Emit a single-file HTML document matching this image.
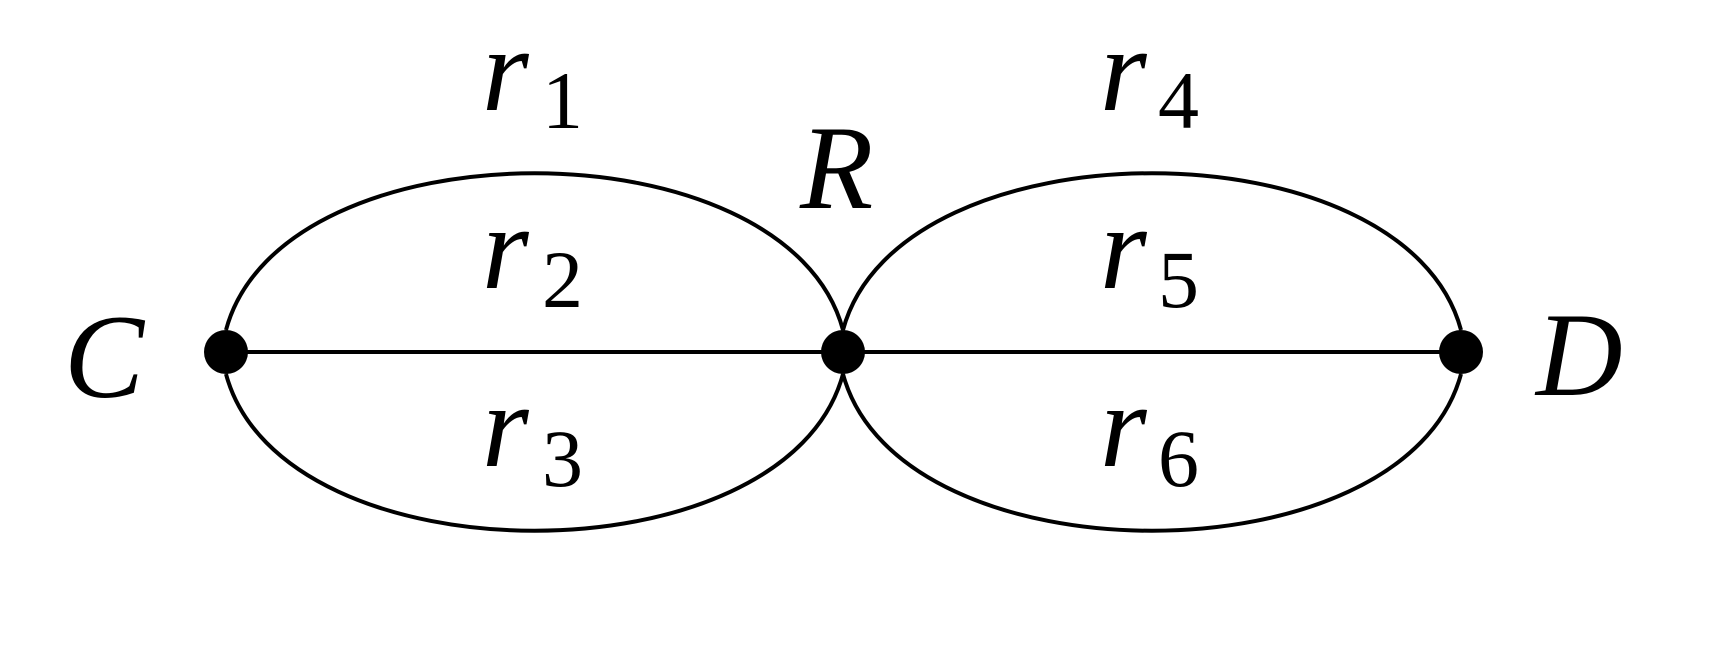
<!DOCTYPE html>
<html><head><style>
html,body{margin:0;padding:0;background:#fff;}
svg{display:block;}
text{font-family:"Liberation Serif",serif;fill:#000;}
.i{font-style:italic;font-size:120px;}
.s{font-size:82px;}
</style></head><body>
<svg width="1720" height="655" viewBox="0 0 1720 655" xmlns="http://www.w3.org/2000/svg">
<g fill="none" stroke="#000" stroke-width="4">
<path d="M226,330 C282,121 787,121 843,330"/>
<path d="M226,374 C282,583 787,583 843,374"/>
<path d="M843,330 C899,121 1405,121 1461,330"/>
<path d="M843,374 C899,583 1405,583 1461,374"/>
<line x1="226" y1="352" x2="1461" y2="352"/>
</g>
<circle cx="226" cy="352" r="22"/>
<circle cx="843" cy="352" r="22"/>
<circle cx="1461" cy="352" r="22"/>
<text class="i" x="482" y="110">r</text><text class="s" x="542" y="128">1</text>
<text class="i" x="482" y="288">r</text><text class="s" x="542" y="307">2</text>
<text class="i" x="482" y="466">r</text><text class="s" x="542" y="486">3</text>
<text class="i" x="1100" y="110">r</text><text class="s" x="1158" y="128">4</text>
<text class="i" x="1100" y="288">r</text><text class="s" x="1158" y="307">5</text>
<text class="i" x="1100" y="466">r</text><text class="s" x="1158" y="486">6</text>
<text class="i" x="800" y="208">R</text>
<text class="i" x="64" y="397">C</text>
<text class="i" x="1536" y="395">D</text>
</svg>
</body></html>
